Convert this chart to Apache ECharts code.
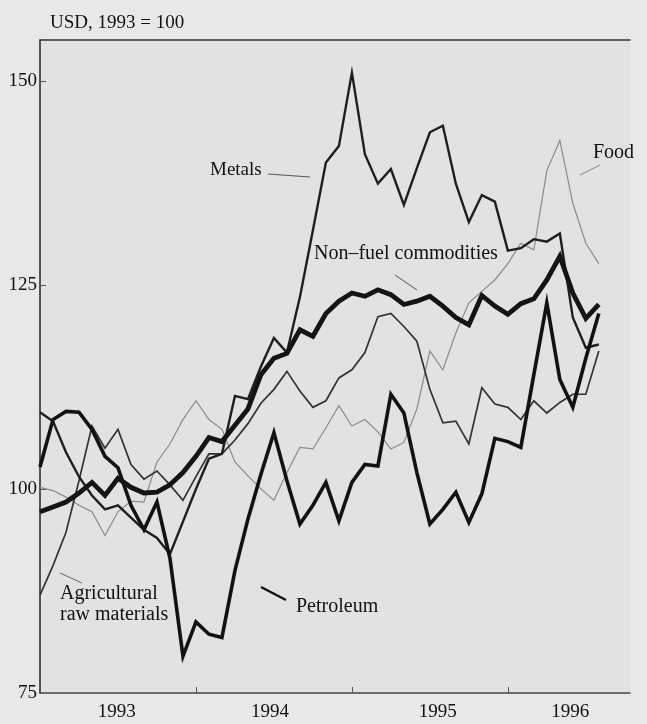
<!DOCTYPE html>
<html>
<head>
<meta charset="utf-8">
<title>Commodity prices</title>
<script src="https://cdn.jsdelivr.net/npm/echarts@6/dist/echarts.min.js"></script>
<style>
  html, body { margin: 0; padding: 0; background: #e8e8e8; }
  #chart { width: 647px; height: 724px; }
</style>
</head>
<body>
<div id="chart"></div>
<script>
// monthly index, Jan 1993 = month 0 (USD, 1993 = 100)
const months = [];
for (let i = 0; i < 44; i++) months.push(i);

const nonFuel = [97.2, 97.8, 98.4, 99.5, 100.8, 99.2, 101.3, 100.2, 99.5, 99.6, 100.5, 102,
  104, 106.3, 105.8, 107.8, 109.8, 114, 116, 116.6, 119.5, 118.7, 121.5, 123,
  124, 123.6, 124.4, 123.8, 122.6, 123, 123.6, 122.4, 121, 120.1, 123.7, 122.4,
  121.4, 122.7, 123.3, 125.6, 128.5, 124, 120.9, 122.6];

const petroleum = [102.7, 108.5, 109.5, 109.4, 107.3, 104, 102.6, 98, 95, 98.4, 91.5, 79.5,
  83.7, 82.2, 81.8, 90, 96.3, 101.8, 106.9, 101, 95.7, 98, 100.8, 96.1,
  100.8, 103, 102.8, 111.6, 109.3, 102, 95.7, 97.5, 99.6, 95.9, 99.4, 106.2,
  105.8, 105.1, 114, 122.8, 113.4, 110, 116, 121.5];

const metals = [109.4, 108.3, 104.5, 101.5, 99.2, 97.5, 98, 96.5, 95, 94, 92, 96,
  100, 103.7, 104.3, 111.4, 111, 115, 118.5, 116.7, 123.5, 131.7, 140, 142,
  151, 141, 137.4, 139.2, 134.8, 139.3, 143.7, 144.5, 137.4, 132.7, 136, 135.2,
  129.2, 129.5, 130.6, 130.3, 131.3, 121, 117.3, 117.7];

const agriRaw = [87, 90.6, 94.7, 101, 107.7, 105, 107.3, 103, 101.2, 102.2, 100.5, 98.6,
  101.5, 104.3, 104.3, 106, 108, 110.5, 112.2, 114.4, 112, 110, 110.8, 113.6,
  114.6, 116.7, 121.1, 121.5, 119.9, 118.1, 112.2, 108.1, 108.3, 105.5, 112.4, 110.4,
  110, 108.5, 110.8, 109.3, 110.6, 111.6, 111.6, 116.9];

const food = [100.2, 99.8, 99, 98, 97.2, 94.3, 97.2, 98.5, 98.4, 103.3, 105.5, 108.5,
  110.8, 108.5, 107.3, 103.3, 101.6, 100, 98.6, 102, 105.1, 104.9, 107.5, 110.2,
  107.7, 108.5, 107, 104.9, 105.7, 109.8, 116.9, 114.6, 119.1, 122.8, 124.2, 125.6,
  127.6, 130.1, 129.3, 139, 142.7, 135, 130.1, 127.6];

// axis ticks and labels
const yearLabels = ['1993', '1994', '1995', '1996'];
const yearLabelPos = [5.9, 17.7, 30.6, 40.8];
const yearTicks = [12, 24, 36];
const yLabels = [75, 100, 125, 150];
const yTicks = [100, 125, 150];

const pair = arr => arr.map((v, i) => [months[i], v]);

const chart = echarts.init(document.getElementById('chart'));
const serif = '"Liberation Serif", "DejaVu Serif", serif';

const mkLine = (name, data, width, color) => ({
  name: name,
  type: 'line',
  data: pair(data),
  symbol: 'none',
  lineStyle: { width: width, color: color, join: 'miter' },
  z: 3
});

const option = {
  backgroundColor: '#e8e8e8',
  animation: false,
  grid: { left: 40, top: 40, right: 17, bottom: 31, show: true, backgroundColor: '#e2e2e2', borderWidth: 0 },
  xAxis: [{
    type: 'value',
    min: 0,
    max: 45.4,
    splitLine: { show: false },
    axisLine: { lineStyle: { color: '#444', width: 1.5 } },
    axisTick: { inside: true, length: 6, customValues: yearTicks, lineStyle: { color: '#555' } },
    axisLabel: {
      customValues: yearLabelPos,
      formatter: v => yearLabels[yearLabelPos.indexOf(v)],
      color: '#111', fontFamily: serif, fontSize: 19, margin: 10
    }
  }, {
    type: 'value',
    position: 'top',
    min: 0,
    max: 45.4,
    splitLine: { show: false },
    axisLine: { lineStyle: { color: '#333', width: 1.5 } },
    axisTick: { show: false },
    axisLabel: { show: false }
  }],
  yAxis: {
    type: 'value',
    min: 75,
    max: 155,
    splitLine: { show: false },
    axisLine: { show: true, lineStyle: { color: '#222', width: 1.5 } },
    axisTick: { inside: true, length: 6, customValues: yTicks, lineStyle: { color: '#555' } },
    axisLabel: { customValues: yLabels, color: '#111', fontFamily: serif, fontSize: 19, margin: 3 }
  },
  series: [
    mkLine('Food', food, 1.2, '#8a8a8a'),
    mkLine('Agricultural raw materials', agriRaw, 1.7, '#333'),
    mkLine('Metals', metals, 2.4, '#1e1e1e'),
    mkLine('Petroleum', petroleum, 3.6, '#121212'),
    mkLine('Non-fuel commodities', nonFuel, 4.8, '#141414')
  ],
  graphic: [
    { type: 'text', left: 50, top: 14, style: { text: 'USD, 1993 = 100', font: '19px ' + serif, fill: '#111' } },
    { type: 'text', left: 210, top: 161, style: { text: 'Metals', font: '19px ' + serif, fill: '#111' } },
    { type: 'line', shape: { x1: 268, y1: 174, x2: 310, y2: 177 }, style: { stroke: '#555', lineWidth: 1 } },
    { type: 'text', left: 593, top: 143, style: { text: 'Food', font: '20px ' + serif, fill: '#111' } },
    { type: 'line', shape: { x1: 580, y1: 175, x2: 600, y2: 165 }, style: { stroke: '#888', lineWidth: 1 } },
    { type: 'text', left: 314, top: 244, style: { text: 'Non\u2013fuel commodities', font: '20px ' + serif, fill: '#111' } },
    { type: 'line', shape: { x1: 395, y1: 275, x2: 417, y2: 290 }, style: { stroke: '#555', lineWidth: 1 } },
    { type: 'text', left: 60, top: 583, style: { text: 'Agricultural\nraw materials', font: '20px ' + serif, fill: '#111', lineHeight: 21 } },
    { type: 'line', shape: { x1: 60, y1: 573, x2: 82, y2: 583 }, style: { stroke: '#666', lineWidth: 1 } },
    { type: 'text', left: 296, top: 597, style: { text: 'Petroleum', font: '20px ' + serif, fill: '#111' } },
    { type: 'line', shape: { x1: 261, y1: 587, x2: 286, y2: 600 }, style: { stroke: '#111', lineWidth: 2.5 } }
  ]
};

chart.setOption(option);
</script>
</body>
</html>
